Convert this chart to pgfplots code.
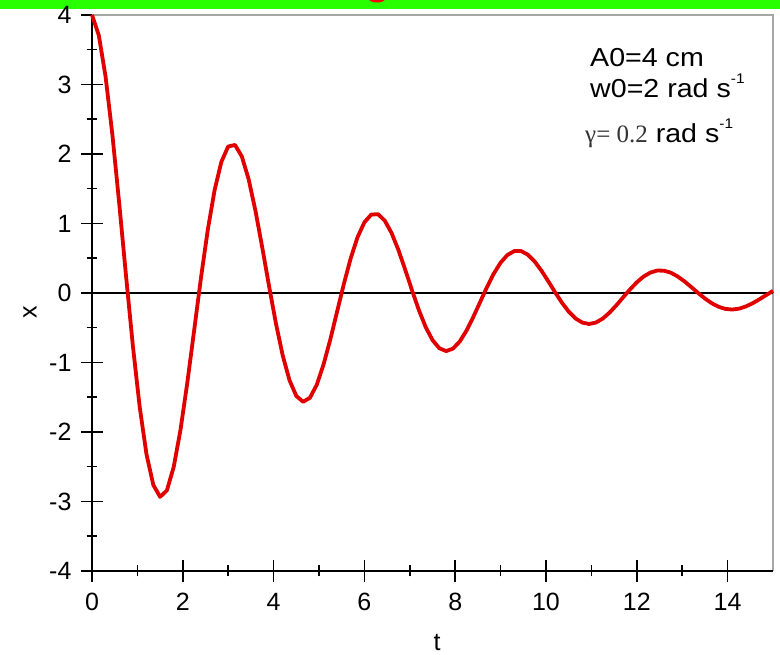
\documentclass[border=0pt]{standalone}
\usepackage{fontspec}
\setmainfont{Liberation Sans}
\newfontfamily\timesf{Liberation Serif}
\newfontfamily\annot{Liberation Sans}[FakeStretch=1.1]
\usepackage{pgfplots}
\pgfplotsset{compat=1.18}
\usepackage{pgfplotstable}
\definecolor{bargreen}{RGB}{40,255,0}
\definecolor{curvered}{RGB}{225,0,0}
\pgfplotstableread{
t x
0 4.000
0.15 3.708
0.30 3.109
0.45 2.272
0.60 1.286
0.75 0.244
0.90 -0.759
1.05 -1.637
1.20 -2.320
1.35 -2.761
1.50 -2.934
1.65 -2.840
1.80 -2.503
1.95 -1.966
2.10 -1.288
2.25 -0.538
2.40 0.217
2.55 0.908
2.70 1.479
2.85 1.888
3.00 2.108
3.15 2.130
3.30 1.965
3.45 1.637
3.60 1.184
3.75 0.655
3.90 0.099
4.05 -0.433
4.20 -0.897
4.35 -1.255
4.50 -1.482
4.65 -1.566
4.80 -1.508
4.95 -1.322
5.10 -1.030
5.25 -0.666
5.40 -0.264
5.55 0.137
5.70 0.503
5.85 0.804
6.00 1.017
6.15 1.128
6.30 1.134
6.45 1.040
6.60 0.861
6.75 0.617
6.90 0.333
7.05 0.036
7.20 -0.246
7.35 -0.491
7.50 -0.678
7.65 -0.795
7.80 -0.836
7.95 -0.801
8.10 -0.698
8.25 -0.540
8.40 -0.343
8.55 -0.129
8.70 0.085
8.85 0.279
9.00 0.437
9.15 0.547
9.30 0.603
9.45 0.604
9.60 0.551
9.75 0.453
9.90 0.321
10.05 0.169
10.20 0.011
10.35 -0.139
10.50 -0.268
10.65 -0.366
10.80 -0.426
10.95 -0.446
11.10 -0.425
11.25 -0.368
11.40 -0.282
11.55 -0.177
11.70 -0.062
11.85 0.051
12.00 0.154
12.15 0.237
12.30 0.294
12.45 0.323
12.60 0.321
12.75 0.292
12.90 0.238
13.05 0.167
13.20 0.085
13.35 0.001
13.50 -0.079
13.65 -0.147
13.80 -0.198
13.95 -0.229
14.10 -0.238
14.25 -0.226
14.40 -0.194
14.55 -0.148
14.70 -0.091
14.85 -0.030
15.00 0.031
}\osc
\begin{document}
\begin{tikzpicture}[x=1pt,y=1pt]
\useasboundingbox (0,0) rectangle (780,655);
\fill[bargreen] (0,646) rectangle (780,655);
\begin{scope}
\clip (0,646) rectangle (780,655);
\fill[red] (377,656) ellipse (8 and 3.5);
\end{scope}
\begin{axis}[
  at={(92pt,84pt)}, anchor=south west,
  scale only axis, width=681pt, height=556pt,
  xmin=0, xmax=15, ymin=-4, ymax=4,
  xtick={0,2,...,14}, ytick={-4,-3,...,4},
  minor x tick num=1, minor y tick num=1,
  tick pos=left,
  tick align=center,
  major tick length=22pt, minor tick length=11pt,
  tick style={black, line width=1.5pt},
  axis line style={draw=none},
  clip=false,
  /pgf/number format/assume math mode=true,
  ticklabel style={font=\fontsize{25}{25}\selectfont},
  xticklabel style={yshift=-8pt},
  yticklabel style={xshift=-6pt},
]
\draw[gray!70, line width=1.3pt] (rel axis cs:0,1) -- (rel axis cs:1,1) -- (rel axis cs:1,0);
\draw[black, line width=1.8pt] (rel axis cs:0,1) -- (rel axis cs:0,0) -- (rel axis cs:1,0);
\addplot[black, line width=1.3pt] coordinates {(0,0) (15,0)};
\addplot[curvered, line width=3.8pt, line join=round] table[x=t, y=x] {\osc};
\end{axis}
\node[anchor=base west, inner sep=0pt, font=\annot\fontsize{26}{26}\selectfont] at (590,588) {A0=4 cm};
\node[anchor=base west, inner sep=0pt, font=\annot\fontsize{26}{26}\selectfont] at (590,557) {w0=2 rad s\raisebox{0.55em}{\fontsize{14}{14}\selectfont -1}};
\node[anchor=base west, inner sep=0pt, font=\annot\fontsize{26}{26}\selectfont] at (585,512) {{\timesf\color{black!80}\fontsize{25}{25}\selectfont γ= 0.2} rad s\raisebox{0.55em}{\fontsize{14}{14}\selectfont -1}};
\node[font=\fontsize{25}{25}\selectfont, inner sep=0pt] at (437,12) {t};
\node[font=\fontsize{25}{25}\selectfont, inner sep=0pt, rotate=90] at (30,343) {x};
\end{tikzpicture}
\end{document}
